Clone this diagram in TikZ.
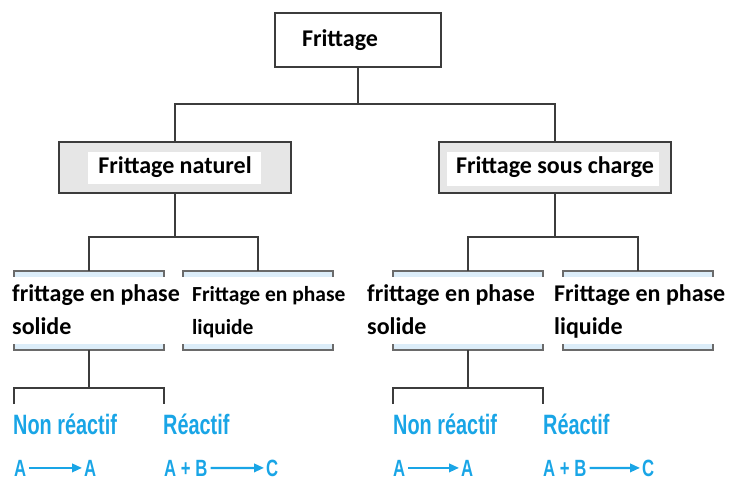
\documentclass[tikz,border=0pt]{standalone}
\usepackage{fontspec}
\setmainfont{Carlito}
\newfontfamily\bluefont[FakeStretch=0.71]{Liberation Sans}
\usetikzlibrary{arrows.meta}
\definecolor{lineC}{HTML}{3C3C3C}
\definecolor{brkC}{HTML}{6A6A6A}
\definecolor{boxgray}{HTML}{E6E6E6}
\definecolor{lblue}{HTML}{DCEDF9}
\definecolor{cyanT}{RGB}{25,165,230}
\begin{document}
\begin{tikzpicture}[x=1bp,y=-1bp,
  conn/.style={draw=lineC, line width=1.8bp},
  rootbox/.style={draw=lineC, line width=2bp, fill=white, minimum width=166bp,
    minimum height=54bp, text width=112bp, inner xsep=27bp, inner ysep=0pt,
    align=left, font=\fontsize{24bp}{29bp}\selectfont\bfseries},
  graybox/.style={draw=lineC, line width=2bp, fill=boxgray, minimum width=232bp,
    minimum height=51bp, inner sep=0pt, font=\fontsize{24bp}{29bp}\selectfont\bfseries},
  brkbox/.style={minimum width=150bp, minimum height=79bp, inner sep=0pt},
  brk/.style={draw=brkC, line width=1.5bp},
  btext/.style={anchor=base west, inner sep=0pt, align=left,
    font=\fontsize{24bp}{33bp}\selectfont\bfseries},
  btextsmall/.style={btext, font=\fontsize{21.5bp}{33bp}\selectfont\bfseries},
  bluet/.style={anchor=base west, inner sep=0pt, text=cyanT,
    font=\bluefont\bfseries\fontsize{28bp}{30bp}\selectfont},
  eqt/.style={bluet, font=\bluefont\bfseries\fontsize{23.5bp}{24bp}\selectfont},
  barrow/.style={draw=cyanT, line width=2.2bp, -{Triangle[length=10bp,width=8.5bp]},
    shorten <=3bp, shorten >=2bp}
]
\useasboundingbox (0,0) rectangle (731,480);

% level 0
\node[rootbox] (root) at (358,40) {Frittage};

% level 1
\node[graybox, path picture={\fill[white]
   ([shift={(-87bp,-16.5bp)}]path picture bounding box.center) rectangle
   ([shift={(86bp,15.5bp)}]path picture bounding box.center);}]
   (nat) at (175,167.5) {Frittage naturel};
\node[graybox, path picture={\fill[white]
   ([shift={(-108bp,-18.5bp)}]path picture bounding box.center) rectangle
   ([shift={(104bp,15.5bp)}]path picture bounding box.center);}]
   (sc) at (555,167.5) {Frittage sous charge};

\draw[conn] (root.south) -- ++(0,36) coordinate (j1);
\draw[conn] (nat.north) |- (j1) -| (sc.north);

% level 2 boxes
\node[brkbox] (b1) at (89,310.5) {};
\node[brkbox] (b2) at (258,310.5) {};
\node[brkbox] (b3) at (468,310.5) {};
\node[brkbox] (b4) at (638,310.5) {};
\foreach \n in {b1,b2,b3,b4}{
  \fill[lblue] (\n.north west) rectangle ([yshift=-6bp]\n.north east);
  \fill[lblue] (\n.south west) rectangle ([yshift=6bp]\n.south east);
  \draw[brk] ([yshift=-6bp]\n.north west) -- (\n.north west) -- (\n.north east) -- ([yshift=-6bp]\n.north east);
  \draw[brk] ([yshift=6bp]\n.south west) -- (\n.south west) -- (\n.south east) -- ([yshift=6bp]\n.south east);
}
\node[btext] (t1) at (12,334) {frittage en phase\\solide};
\node[btextsmall] (t2) at (192,334) {Frittage en phase\\liquide};
\node[btext] (t3) at (367,334) {frittage en phase\\solide};
\node[btext] (t4) at (554,334) {Frittage en phase\\liquide};

\draw[conn] (nat.south) -- ++(0,43) coordinate (j2);
\draw[conn] (b1.north) |- (j2) -| (b2.north);
\draw[conn] (sc.south) -- ++(0,43) coordinate (j2r);
\draw[conn] (b3.north) |- (j2r) -| (b4.north);

% level 3
\draw[conn] (b1.south) -- ++(0,38) coordinate (j3);
\coordinate (l1) at (14,404);
\coordinate (l2) at (164,404);
\draw[conn] (l1) |- (j3) -| (l2);
\draw[conn] (b3.south) -- ++(0,38) coordinate (j3r);
\coordinate (l3) at (393,404);
\coordinate (l4) at (543,404);
\draw[conn] (l3) |- (j3r) -| (l4);

\node[bluet] (n1) at (13,434) {Non réactif};
\node[bluet] (r1) at (163,434) {Réactif};
\node[bluet] (n2) at (393,434) {Non réactif};
\node[bluet] (r2) at (543,434) {Réactif};

\node[eqt] (a1) at (14,476) {A};
\node[eqt] (a2) at (84,476) {A};
\draw[barrow] (a1.east) -- (a2.west);
\node[eqt] (ab1) at (164,476) {A + B};
\node[eqt] (c1) at (266,476) {C};
\draw[barrow] (ab1.east) -- (c1.west);

\node[eqt] (a3) at (393,476) {A};
\node[eqt] (a4) at (461,476) {A};
\draw[barrow] (a3.east) -- (a4.west);
\node[eqt] (ab2) at (543,476) {A + B};
\node[eqt] (c2) at (642,476) {C};
\draw[barrow] (ab2.east) -- (c2.west);
\end{tikzpicture}
\end{document}
